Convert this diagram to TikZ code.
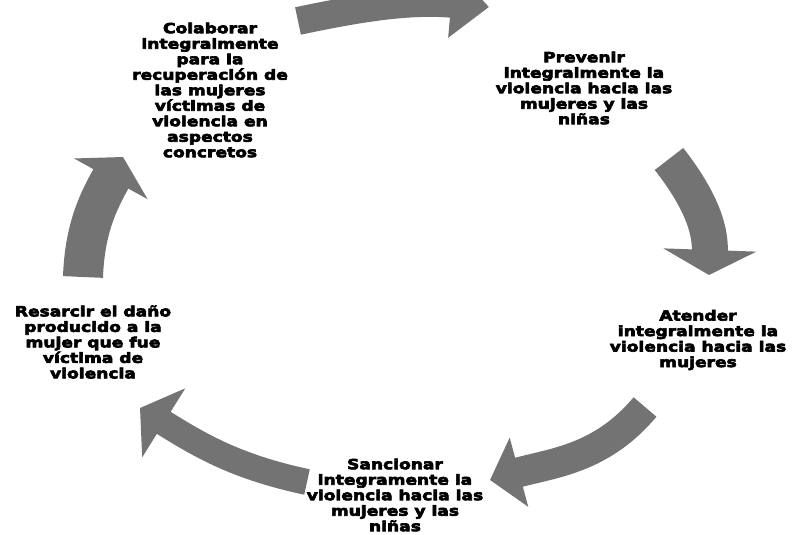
\documentclass[tikz,border=0pt]{standalone}
\usepackage{fontspec}
\usetikzlibrary{arrows.meta}
\newfontfamily\ciclofont{DejaVu Sans}[FakeStretch=1.22,FakeBold=4.5]
\tikzset{etapa/.style={align=center, font=\ciclofont\bfseries\fontsize{14}{15.5}\selectfont}}
\tikzset{flecha/.style={draw=black!55, line width=#1}}

\begin{document}
\begin{tikzpicture}[x=1pt,y=1pt]
\useasboundingbox (0,0) rectangle (793,535);
\clip (0,0) rectangle (793,535);
\node[etapa] (colabora) at (210,445) {Colaborar\\integralmente\\para la\\recuperación de\\las mujeres\\víctimas de\\violencia en\\aspectos\\concretos};
\node[etapa] (previene) at (584,447) {Prevenir\\integralmente la\\violencia hacia las\\mujeres y las\\niñas};
\node[etapa] (atiende) at (698,195) {Atender\\integralmente la\\violencia hacia las\\mujeres};
\node[etapa] (sanciona) at (395,40) {Sancionar\\integramente la\\violencia hacia las\\mujeres y las\\niñas};
\node[etapa] (resarce) at (93,193) {Resarcir el daño\\producido a la\\mujer que fue\\víctima de\\violencia};

\coordinate (ini1) at (298,514);
\coordinate (fin1) at (489,528);
\coordinate (ini2) at (669,376);
\coordinate (fin2) at (709,260);
\coordinate (ini3) at (645,128);
\coordinate (fin3) at (490,55);
\coordinate (ini4) at (307,53);
\coordinate (fin4) at (140,127);
\coordinate (ini5) at (83,258);
\coordinate (fin5) at (123,378);

\draw[flecha=28pt, -{Triangle[width=66pt,length=38pt]}] (ini1) to[out=12,in=175] (fin1);
\draw[flecha=36pt, -{Triangle[width=92pt,length=25pt]}] (ini2) to[out=-52,in=88] (fin2);
\draw[flecha=30pt, -{Triangle[width=70pt,length=30pt]}] (ini3) to[out=-130,in=15] (fin3);
\draw[flecha=26pt, -{Triangle[width=80pt,length=28pt]}] (ini4) to[out=168,in=-32] (fin4);
\draw[flecha=40pt, -{Triangle[width=83pt,length=25pt]}] (ini5) to[out=88,in=-119] (fin5);
\end{tikzpicture}
\end{document}
